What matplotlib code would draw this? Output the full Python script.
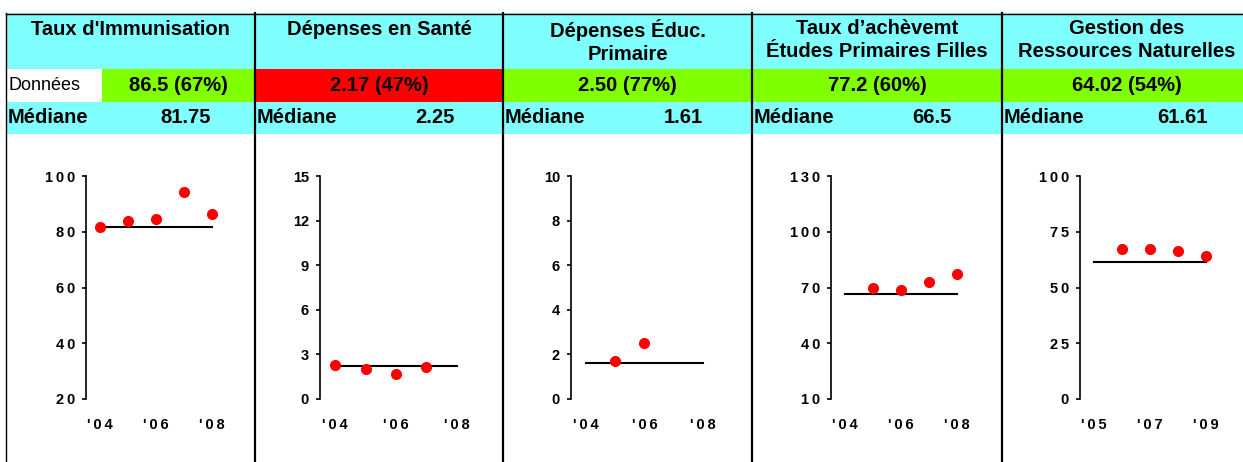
import matplotlib
matplotlib.use("Agg")
import matplotlib.pyplot as plt
from matplotlib.patches import Rectangle

plt.rcParams['font.family'] = ['Liberation Sans', 'DejaVu Sans']

# table data
headers = ["Taux d'Immunisation", "Dépenses en Santé", "Dépenses Éduc.\nPrimaire",
           "Taux d\u2019achèvemt\nÉtudes Primaires Filles", "Gestion des\nRessources Naturelles"]
latest_txt = ["86.5 (67%)", "2.17 (47%)", "2.50 (77%)", "77.2 (60%)", "64.02 (54%)"]
latest_col = ["#80ff00", "#ff0000", "#80ff00", "#80ff00", "#80ff00"]
median_txt = ["81.75", "2.25", "1.61", "66.5", "61.61"]

# chart data
years = [[2004, 2005, 2006, 2007, 2008],
         [2004, 2005, 2006, 2007],
         [2005, 2006],
         [2005, 2006, 2007, 2008],
         [2006, 2007, 2008, 2009]]
values = [[81.75, 84.0, 84.6, 94.4, 86.5],
          [2.3, 2.0, 1.7, 2.17],
          [1.7, 2.5],
          [69.8, 68.7, 72.8, 77.2],
          [67.1, 67.1, 66.2, 64.02]]
medians = [81.75, 2.25, 1.61, 66.5, 61.61]
xticks = [[2004, 2006, 2008], [2004, 2006, 2008], [2004, 2006, 2008],
          [2004, 2006, 2008], [2005, 2007, 2009]]
yticks = [[20, 40, 60, 80, 100], [0, 3, 6, 9, 12, 15], [0, 2, 4, 6, 8, 10],
          [10, 40, 70, 100, 130], [0, 25, 50, 75, 100]]
spaced_y = [True, False, False, True, True]


def spaced(s):
    return "\u2009".join(s)


W, H = 1243, 462
fig = plt.figure(figsize=(W / 100, H / 100), dpi=100)

bg = fig.add_axes([0, 0, 1, 1])
bg.set_xlim(0, W)
bg.set_ylim(H, 0)
bg.axis('off')

cyan = "#80ffff"
col_x = [6, 255, 503, 752, 1002, 1251]
for i in range(5):
    x0, x1 = col_x[i], col_x[i + 1]
    bg.add_patch(Rectangle((x0, 13), x1 - x0, 56, color=cyan, lw=0))
    bg.add_patch(Rectangle((x0, 101.5), x1 - x0, 32, color=cyan, lw=0))
    cx0 = 102 if i == 0 else x0
    bg.add_patch(Rectangle((cx0, 69), x1 - cx0, 32.5, color=latest_col[i], lw=0))
    if '\n' in headers[i]:
        bg.text((x0 + x1) / 2, 19, headers[i], ha='center', va='top',
                fontsize=14.5, fontweight='bold', linespacing=1.25)
    else:
        bg.text((x0 + x1) / 2, 29.5, headers[i], ha='center', va='center',
                fontsize=14.5, fontweight='bold')
    bg.text((cx0 + x1) / 2, 85.5, latest_txt[i],
            ha='center', va='center', fontsize=14.5, fontweight='bold')
    bg.text(x0 + 2, 117.5, "Médiane", ha='left', va='center', fontsize=14.5, fontweight='bold')
    bg.text(x0 + 180, 117.5, median_txt[i], ha='center', va='center', fontsize=14.5, fontweight='bold')
bg.text(8, 85, "Données", ha='left', va='center', fontsize=13)

bg.plot([6, W], [13.5, 13.5], color='black', lw=1)
bg.plot([6.5, 6.5], [13, H], color='black', lw=1)
for x in col_x[1:5]:
    bg.plot([x, x], [13, H], color='black', lw=1.6)

# charts
ax_px = [(86, 226), (320, 472), (571, 718), (831, 971), (1080, 1220)]
top, bottom = 176, 399
for i in range(5):
    l, r = ax_px[i]
    ax = fig.add_axes([l / W, 1 - bottom / H, (r - l) / W, (bottom - top) / H])
    ax.patch.set_alpha(0)
    t0 = xticks[i][0]
    ax.set_xlim(t0 - 0.5, t0 + 4.5)
    ax.set_ylim(yticks[i][0], yticks[i][-1])
    ax.plot([xticks[i][0], xticks[i][-1]], [medians[i], medians[i]], color='black', lw=1.5, zorder=2)
    ax.plot(years[i], values[i], 'o', color='red', ms=7, zorder=3, clip_on=False)
    for s in ['top', 'right', 'bottom']:
        ax.spines[s].set_visible(False)
    ax.spines['left'].set_linewidth(1.2)
    ax.set_yticks(yticks[i])
    ylab = [spaced(str(v)) if spaced_y[i] else str(v) for v in yticks[i]]
    ax.set_yticklabels(ylab, fontsize=10.5, fontweight='bold')
    ax.set_xticks(xticks[i])
    ax.set_xticklabels([spaced("'" + str(y)[2:]) for y in xticks[i]], fontsize=10.5, fontweight='bold')
    ax.tick_params(axis='y', direction='out', length=3, width=1.2, pad=5)
    ax.tick_params(axis='x', length=0, pad=14)

fig.savefig("out.png", dpi=100)
